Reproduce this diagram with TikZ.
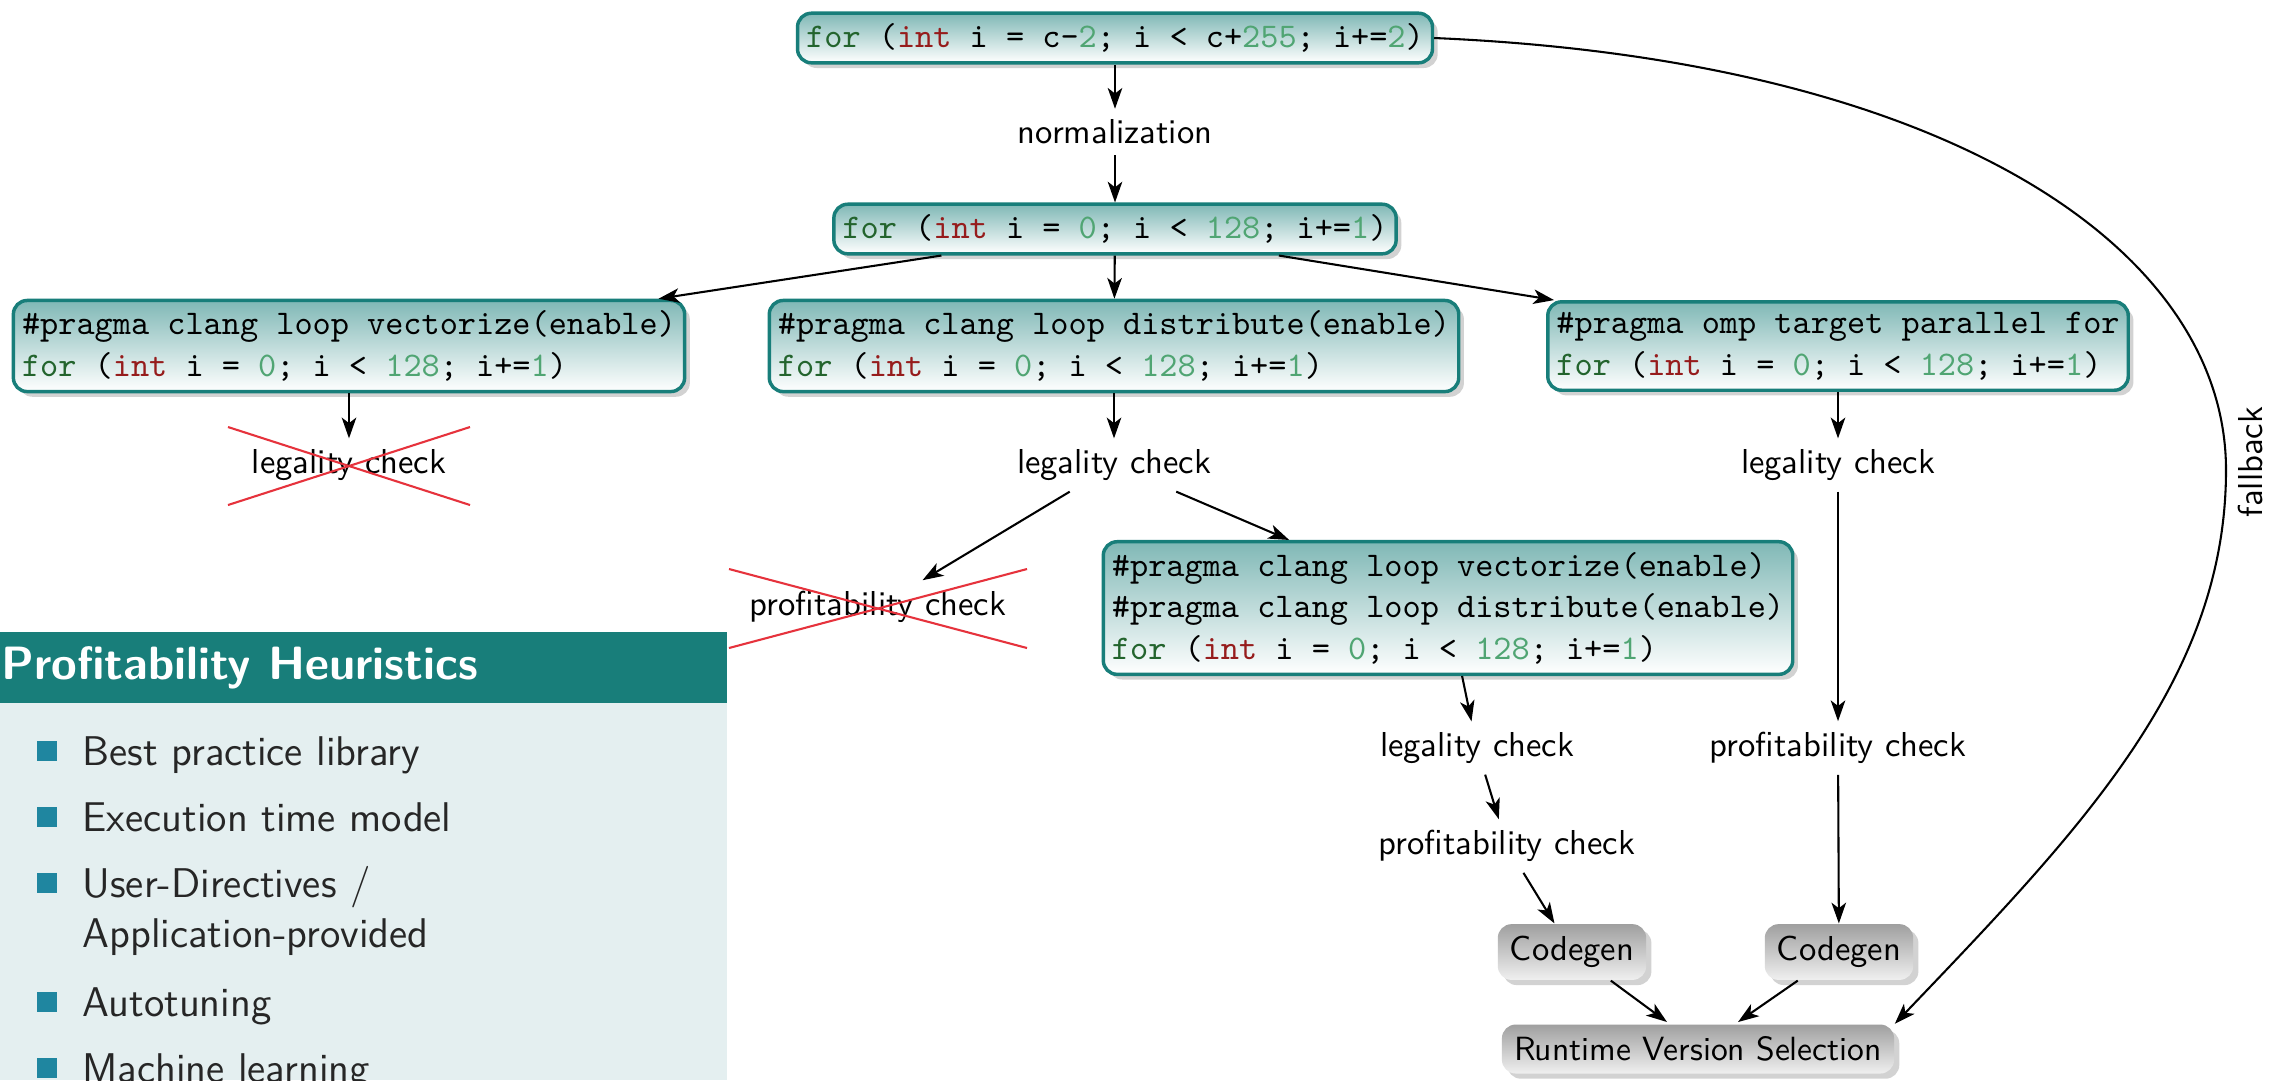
\documentclass[tikz,border=0pt]{standalone}
\usetikzlibrary{shadows,arrows.meta,calc}
\definecolor{tealb}{RGB}{24,126,122}
\definecolor{kwfor}{RGB}{35,100,45}
\definecolor{kwint}{RGB}{150,28,28}
\definecolor{numc}{RGB}{80,165,115}
\definecolor{hbody}{RGB}{228,239,240}
\definecolor{bulletc}{RGB}{31,134,160}
\definecolor{crossc}{RGB}{230,50,60}
\newcommand\kwf{\textcolor{kwfor}{for}}
\newcommand\kwi{\textcolor{kwint}{int}}
\newcommand\nmb[1]{\textcolor{numc}{#1}}
\begin{document}
\begin{tikzpicture}[x=0.289pt,y=-0.289pt,
  code/.style={draw=tealb, line width=1pt, rounded corners=4pt,
    top color=tealb!55!white, bottom color=white, inner xsep=2.5pt, inner ysep=3pt,
    font=\ttfamily, align=left,
    drop shadow={opacity=0.35, shadow xshift=1.5pt, shadow yshift=-1.5pt}},
  lbl/.style={font=\sffamily, inner sep=3pt},
  gen/.style={rounded corners=4pt, top color=gray!75, bottom color=gray!12,
    font=\sffamily, inner xsep=3.5pt, inner ysep=3.5pt,
    drop shadow={opacity=0.35, shadow xshift=1.5pt, shadow yshift=-1.5pt}},
  arr/.style={-{Stealth[length=6pt,width=4.2pt,inset=1.6pt]}, line width=0.6pt},
  xline/.style={draw=crossc, line width=0.6pt},
  item/.style={anchor=base west, font=\sffamily\fontsize{12}{14.5}\selectfont, text=black!85, inner sep=0pt},
  bul/.style={fill=bulletc, minimum size=5.8pt, inner sep=0pt}
]
\fill[white] (0,0) rectangle (2295,1080);
\useasboundingbox (0,0) rectangle (2295,1080);

% heuristics panel
\fill[hbody] (0,703) rectangle (727,1080);
\fill[tealb] (0,632) rectangle (727,703);
\node[anchor=west, inner sep=0pt, text=white, font=\sffamily\bfseries\fontsize{13.5}{16}\selectfont] (htitle) at (1,668) {Profitability Heuristics};
\node[bul] (b1) at (47,751) {};
\node[item] (i1) at (82,765) {Best practice library};
\node[bul] (b2) at (47,817) {};
\node[item] (i2) at (82,831) {Execution time model};
\node[bul] (b3) at (47,883) {};
\node[item] (i3) at (82,897) {User-Directives /};
\node[item] (i3b) at (82,947) {Application-provided};
\node[bul] (b4) at (47,1002) {};
\node[item] (i4) at (82,1016) {Autotuning};
\node[bul] (b5) at (47,1068) {};
\node[item] (i5) at (82,1082) {Machine learning};

% code boxes
\node[code] (top) at (1115,38) {\kwf{} (\kwi{} i = c-\nmb{2}; i < c+\nmb{255}; i+=\nmb{2})};
\node[lbl] (norm) at (1115,132) {normalization};
\node[code] (n0) at (1115,229) {\kwf{} (\kwi{} i = \nmb{0}; i < \nmb{128}; i+=\nmb{1})};
\node[code] (va) at (349,346) {\#pragma clang loop vectorize(enable)\\\kwf{} (\kwi{} i = \nmb{0}; i < \nmb{128}; i+=\nmb{1})};
\node[code] (vb) at (1114,346) {\#pragma clang loop distribute(enable)\\\kwf{} (\kwi{} i = \nmb{0}; i < \nmb{128}; i+=\nmb{1})};
\node[code] (vc) at (1838,346) {\#pragma omp target parallel for\\\kwf{} (\kwi{} i = \nmb{0}; i < \nmb{128}; i+=\nmb{1})};
\node[lbl] (la) at (349,465) {legality check};
\node[lbl] (lb) at (1114,465) {legality check};
\node[lbl] (lc) at (1838,465) {legality check};
\node[lbl] (pb) at (878,607) {profitability check};
\node[code] (vd) at (1448,608) {\#pragma clang loop vectorize(enable)\\\#pragma clang loop distribute(enable)\\\kwf{} (\kwi{} i = \nmb{0}; i < \nmb{128}; i+=\nmb{1})};
\node[lbl] (ld) at (1477,748) {legality check};
\node[lbl] (pd) at (1507,846) {profitability check};
\node[lbl] (pc) at (1838,748) {profitability check};
\node[gen] (cg1) at (1572,952) {Codegen};
\node[gen] (cg2) at (1839,952) {Codegen};
\node[gen, font=\sffamily\fontsize{9.7}{11}\selectfont] (rt) at (1698,1049) {Runtime Version Selection};
\node[lbl, rotate=90, inner sep=1pt] (fbl) at (2250,462) {fallback};

\coordinate (rin1) at (1667,1022);
\coordinate (rin2) at (1738,1022);
\coordinate (fbm) at (2226,470);

% connectors
\draw[arr] (top) -- (norm);
\draw[arr] (norm) -- (n0);
\draw[arr] (n0) -- (va);
\draw[arr] (n0) -- (vb);
\draw[arr] (n0) -- (vc);
\draw[arr] (va) -- (la);
\draw[arr] (vb) -- (lb);
\draw[arr] (vc) -- (lc);
\draw[arr] (lb) -- (pb);
\draw[arr] (lb) -- (vd);
\draw[arr] (lc) -- (pc);
\draw[arr] (vd) -- (ld);
\draw[arr] (ld) -- (pd);
\draw[arr] (pd) -- (cg1);
\draw[arr] (pc) -- (cg2);
\draw[arr] (cg1) -- (rin1);
\draw[arr] (cg2) -- (rin2);
\draw[arr] (top.east) .. controls (1950,60) and (2226,250) .. (fbm) .. controls (2226,680) and (2080,830) .. (rt.north east);

% crossed-out checks
\draw[xline] ($(la.center)+(-121,-38)$) -- ($(la.center)+(121,40)$);
\draw[xline] ($(la.center)+(-121,40)$) -- ($(la.center)+(121,-38)$);
\draw[xline] ($(pb.center)+(-149,-38)$) -- ($(pb.center)+(149,41)$);
\draw[xline] ($(pb.center)+(-149,41)$) -- ($(pb.center)+(149,-38)$);
\end{tikzpicture}
\end{document}
